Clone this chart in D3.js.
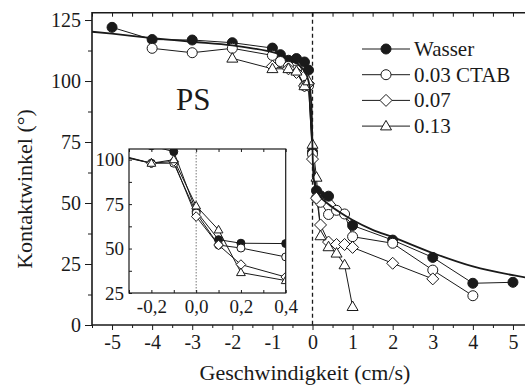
<!DOCTYPE html>
<html>
<head>
<meta charset="utf-8">
<script src="https://cdn.jsdelivr.net/npm/d3@7"></script>
<style>
  body { margin: 0; background: #fff; }
  svg text { font-family: "Liberation Serif", "DejaVu Serif", "Times New Roman", serif !important; fill: #1a1a1a; }
  .axis line, .axis path { stroke: #1a1a1a; }
</style>
</head>
<body>
<div id="chart"></div>
<script>
// values
var xTicks = [-5, -4, -3, -2, -1, 0, 1, 2, 3, 4, 5];
var yTicks = [0, 25, 50, 75, 100, 125];
var insetXTicks = [-0.2, 0, 0.2, 0.4];
var insetYTicks = [25, 50, 75, 100];

var waterX = [-5, -4, -3, -2, -1, -0.8, -0.6, -0.4, -0.2, -0.1, 0, 0.1, 0.2, 0.4, 1, 2, 3, 4, 5];
var waterY = [122, 117, 116.8, 115.7, 113.5, 110.8, 108.5, 109.2, 107.8, 104.5, 71, 55, 53, 52.8, 40.8, 34.8, 27.7, 17.1, 17.5];

var ctabX = [-4, -3, -2, -1, -0.8, -0.6, -0.4, -0.2, -0.1, 0, 0.1, 0.2, 0.4, 0.6, 0.8, 1, 2, 3, 4];
var ctabY = [113.4, 111.6, 113.4, 110.5, 108, 106, 104.5, 98, 98, 70, 52, 50.3, 45.3, 47, 45.5, 36.2, 33.5, 22.5, 12];

var dia07X = [-1, -0.6, -0.4, -0.2, -0.1, 0, 0.1, 0.2, 0.4, 0.6, 0.8, 1, 2, 3];
var dia07Y = [106, 105, 103.5, 98, 99, 68, 52, 41, 34, 33, 33, 31.8, 25.3, 18.9];

var tri13X = [-2, -1, -0.6, -0.4, -0.2, -0.1, 0, 0.1, 0.2, 0.4, 0.6, 0.8, 1];
var tri13Y = [109.3, 105, 105, 104, 98, 100, 74, 60.5, 36.5, 32, 29.4, 24.6, 7.5];

// fitted curve
var fitX = [-5.5, -5, -4, -3, -2, -1.5, -1, -0.7, -0.5, -0.3, -0.2, -0.1, -0.05, -0.02, 0, 0.02, 0.05, 0.1, 0.2, 0.4, 0.7, 1, 1.5, 2, 3, 4, 5, 5.5];
var fitY = [120.2, 119.4, 117.6, 116.1, 114.6, 113.4, 111.8, 110.2, 108.6, 106, 104, 100, 95, 88, 72, 62, 58, 55.5, 52.5, 49.5, 46, 43, 39, 36, 29.5, 24, 20.4, 19];

var legendNames = ["Wasser", "0.03 CTAB", "0.07", "0.13"];

var width = 525, height = 387;
var ink = "#1a1a1a";

var svg = d3.select("#chart").append("svg")
  .attr("width", width)
  .attr("height", height);

// main scales
var x = d3.scaleLinear().domain([-5.5, 5.5]).range([92, 533]);
var y = d3.scaleLinear().domain([0, 128]).range([325, 12.7]);

var series = [
  { xs: waterX, ys: waterY, shape: "circle", fill: ink },
  { xs: ctabX, ys: ctabY, shape: "circle", fill: "#fff" },
  { xs: dia07X, ys: dia07Y, shape: "diamond", fill: "#fff" },
  { xs: tri13X, ys: tri13Y, shape: "triangle", fill: "#fff" }
];

function shapePath(shape, s) {
  if (shape == "circle") {
    return "M" + s + ",0A" + s + "," + s + " 0 1,1 " + (-s) + ",0A" + s + "," + s + " 0 1,1 " + s + ",0Z";
  }
  if (shape == "diamond") {
    var d = s * 1.2;
    return "M0," + (-d) + "L" + d + ",0L0," + d + "L" + (-d) + ",0Z";
  }
  // triangle
  var h = s * 1.9, w = s * 1.1;
  return "M0," + (-h * 0.6) + "L" + w + "," + (h * 0.4) + "L" + (-w) + "," + (h * 0.4) + "Z";
}

function drawSeries(g, xs, ys, sc, r) {
  var line = d3.line().x(function (d) { return xs(d[0]); }).y(function (d) { return ys(d[1]); });
  sc.forEach(function (s) {
    var pts = s.xs.map(function (v, i) { return [v, s.ys[i]]; });
    g.append("path")
      .attr("d", line(pts))
      .attr("fill", "none")
      .attr("stroke", ink)
      .attr("stroke-width", 1);
  });
  sc.forEach(function (s) {
    var pts = s.xs.map(function (v, i) { return [v, s.ys[i]]; });
    g.selectAll(null)
      .data(pts)
      .enter()
      .append("path")
      .attr("transform", function (d) { return "translate(" + xs(d[0]) + "," + ys(d[1]) + ")"; })
      .attr("d", shapePath(s.shape, r))
      .attr("fill", s.fill)
      .attr("stroke", ink)
      .attr("stroke-width", 1);
  });
}

// dashed zero line
svg.append("line")
  .attr("x1", x(0)).attr("x2", x(0))
  .attr("y1", y(128)).attr("y2", y(0))
  .attr("stroke", ink)
  .attr("stroke-width", 1.3)
  .attr("stroke-dasharray", "4,3");

// data
var dataG = svg.append("g");
drawSeries(dataG, x, y, series, 5);

// fit curve
var fitPts = fitX.map(function (v, i) { return [v, fitY[i]]; });
svg.append("path")
  .attr("d", d3.line().curve(d3.curveMonotoneX)
    .x(function (d) { return x(d[0]); })
    .y(function (d) { return y(d[1]); })(fitPts))
  .attr("fill", "none")
  .attr("stroke", ink)
  .attr("stroke-width", 1.8);

// axes
var minorX = d3.range(-5.5, 5.51, 0.5).filter(function (v) { return v % 1 != 0; });
var minorY = d3.range(12.5, 128, 25);

var bottom = svg.append("g").attr("class", "axis")
  .attr("transform", "translate(0," + y(0) + ")")
  .call(d3.axisBottom(x).tickValues(xTicks).tickSize(5).tickPadding(5)
    .tickFormat(function (d) { return String(d); }));
bottom.select(".domain").remove();
bottom.selectAll("text").style("font-size", "20px");
svg.append("g").attr("class", "axis")
  .attr("transform", "translate(0," + y(0) + ")")
  .call(d3.axisBottom(x).tickValues(minorX).tickSize(3).tickFormat(""))
  .select(".domain").remove();

// top ticks pointing inward
var top1 = svg.append("g").attr("class", "axis")
  .attr("transform", "translate(0," + y(128) + ")")
  .call(d3.axisBottom(x).tickValues(xTicks.concat(minorX)).tickSize(4).tickFormat(""));
top1.select(".domain").remove();

var left = svg.append("g").attr("class", "axis")
  .attr("transform", "translate(" + x(-5.5) + ",0)")
  .call(d3.axisLeft(y).tickValues(yTicks).tickSize(7).tickPadding(4));
left.select(".domain").remove();
left.selectAll("text").style("font-size", "20px");
svg.append("g").attr("class", "axis")
  .attr("transform", "translate(" + x(-5.5) + ",0)")
  .call(d3.axisLeft(y).tickValues(minorY).tickSize(4).tickFormat(""))
  .select(".domain").remove();

// frame
svg.append("path")
  .attr("d", "M" + width + "," + y(128) + "H" + x(-5.5) + "V" + y(0) + "H" + width)
  .attr("fill", "none")
  .attr("stroke", ink)
  .attr("stroke-width", 1.6);

// axis titles
svg.append("text")
  .attr("x", 305)
  .attr("y", 380)
  .attr("text-anchor", "middle")
  .style("font-size", "22px")
  .text("Geschwindigkeit (cm/s)");

svg.append("text")
  .attr("transform", "translate(32,189) rotate(-90)")
  .attr("text-anchor", "middle")
  .style("font-size", "22px")
  .text("Kontaktwinkel (°)");

svg.append("text")
  .attr("x", 176)
  .attr("y", 110)
  .style("font-size", "31px")
  .text("PS");

// legend
var legend = svg.append("g");
legendNames.forEach(function (name, i) {
  var ly = 49 + i * 25.7;
  legend.append("line")
    .attr("x1", 362).attr("x2", 410)
    .attr("y1", ly).attr("y2", ly)
    .attr("stroke", ink).attr("stroke-width", 1);
  legend.append("path")
    .attr("transform", "translate(386," + ly + ")")
    .attr("d", shapePath(series[i].shape, 5))
    .attr("fill", series[i].fill)
    .attr("stroke", ink).attr("stroke-width", 1);
  legend.append("text")
    .attr("x", 414)
    .attr("y", ly + 7)
    .style("font-size", "21px")
    .text(name);
});

// inset
var ix = d3.scaleLinear().domain([-0.3, 0.4]).range([129, 285.7]);
var iy = d3.scaleLinear().domain([25, 106]).range([293, 149]);

svg.append("rect")
  .attr("x", 129).attr("y", 149)
  .attr("width", 285.7 - 129).attr("height", 293 - 149)
  .attr("fill", "#fff");

svg.append("clipPath").attr("id", "insetClip")
  .append("rect")
  .attr("x", 129).attr("y", 149)
  .attr("width", 285.7 - 129).attr("height", 293 - 149);

svg.append("line")
  .attr("x1", ix(0)).attr("x2", ix(0))
  .attr("y1", 149).attr("y2", 293)
  .attr("stroke", "#555")
  .attr("stroke-width", 0.8)
  .attr("stroke-dasharray", "1.5,1.5");

var insetG = svg.append("g").attr("clip-path", "url(#insetClip)");
drawSeries(insetG, ix, iy, series, 4);

var iMinorX = [-0.3, -0.1, 0.1, 0.3];
var iMinorY = [37.5, 62.5, 87.5];

var ib = svg.append("g").attr("class", "axis")
  .attr("transform", "translate(0,293)")
  .call(d3.axisBottom(ix).tickValues(insetXTicks).tickSize(0).tickPadding(7)
    .tickFormat(function (d) { return d.toFixed(1).replace(".", ","); }));
ib.select(".domain").remove();
ib.selectAll("text").style("font-size", "19px");
svg.append("g").attr("class", "axis")
  .attr("transform", "translate(0,293)")
  .call(d3.axisTop(ix).tickValues(insetXTicks.concat(iMinorX)).tickSize(3).tickFormat(""))
  .select(".domain").remove();
svg.append("g").attr("class", "axis")
  .attr("transform", "translate(0,149)")
  .call(d3.axisBottom(ix).tickValues(insetXTicks.concat(iMinorX)).tickSize(3).tickFormat(""))
  .select(".domain").remove();

var il = svg.append("g").attr("class", "axis")
  .attr("transform", "translate(129,0)")
  .call(d3.axisLeft(iy).tickValues(insetYTicks).tickSize(0).tickPadding(5));
il.select(".domain").remove();
il.selectAll("text").style("font-size", "19px");
svg.append("g").attr("class", "axis")
  .attr("transform", "translate(129,0)")
  .call(d3.axisRight(iy).tickValues(insetYTicks.concat(iMinorY)).tickSize(3).tickFormat(""))
  .select(".domain").remove();

svg.append("rect")
  .attr("x", 129).attr("y", 149)
  .attr("width", 285.7 - 129).attr("height", 293 - 149)
  .attr("fill", "none")
  .attr("stroke", ink)
  .attr("stroke-width", 1.2);
</script>
</body>
</html>
